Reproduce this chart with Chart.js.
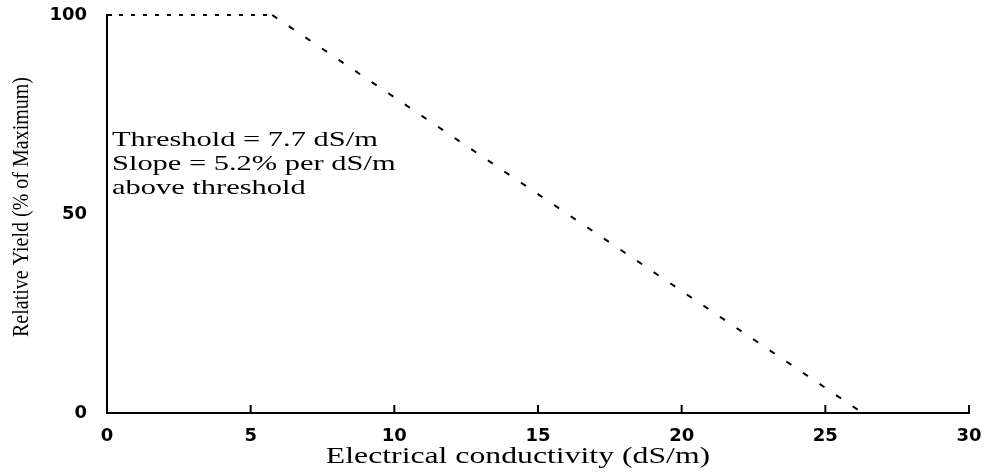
<!DOCTYPE html>
<html>
<head>
<meta charset="utf-8">
<script src="https://cdn.jsdelivr.net/npm/chart.js@4.4.1/dist/chart.umd.min.js"></script>
<style>
  body { margin: 0; background: #fff; }
  #wrap { width: 988px; height: 472px; }
</style>
</head>
<body>
<div id="wrap"><canvas id="salt" width="988" height="472"></canvas></div>
<script>
// values
const ecValues = [0, 5.75, 26.3];       // electrical conductivity, dS/m
const yieldValues = [100, 100, 0];      // relative yield, % of maximum
const xTickValues = [0, 5, 10, 15, 20, 25, 30];
const yTickValues = [0, 50, 100];
const xTitle = 'Electrical conductivity (dS/m)';
const yTitle = 'Relative Yield (% of Maximum)';
const noteLines = ['Threshold = 7.7 dS/m', 'Slope = 5.2% per dS/m', 'above threshold'];

const points = ecValues.map((x, i) => ({ x: x, y: yieldValues[i] }));

// draw text stretched sideways like the scanned original
function wideText(ctx, text, x, y, font, sx, align, rotate) {
  ctx.save();
  ctx.translate(x, y);
  ctx.scale(sx, 1);
  if (rotate) ctx.rotate(-Math.PI / 2);
  ctx.font = font;
  ctx.fillStyle = '#000';
  ctx.textAlign = align;
  ctx.textBaseline = rotate ? 'middle' : 'alphabetic';
  ctx.fillText(text, 0, 0);
  ctx.restore();
}

const extras = {
  id: 'extras',
  afterDraw(chart) {
    const ctx = chart.ctx;
    const xs = chart.scales.x, ys = chart.scales.y;
    const area = chart.chartArea;

    // small inward tick marks
    ctx.save();
    ctx.strokeStyle = '#000';
    ctx.lineWidth = 2;
    ctx.beginPath();
    xTickValues.forEach(v => {
      if (v === 0) return;
      const px = xs.getPixelForValue(v);
      ctx.moveTo(px, area.bottom);
      ctx.lineTo(px, area.bottom - 8);
    });
    const top = ys.getPixelForValue(100);
    ctx.moveTo(area.left, top);
    ctx.lineTo(area.left + 5, top);
    ctx.stroke();
    ctx.restore();

    // axis titles
    wideText(ctx, xTitle, 518, 463, '23px "Liberation Serif"', 1.38, 'center', false);
    wideText(ctx, yTitle, 22, 207, '20px "Liberation Serif"', 1.15, 'center', true);

    // note
    noteLines.forEach((t, i) => {
      wideText(ctx, t, 112, 146 + i * 24, '21px "Liberation Serif"', 1.45, 'left', false);
    });
  }
};

new Chart(document.getElementById('salt').getContext('2d'), {
  type: 'scatter',
  data: {
    datasets: [{
      data: points,
      showLine: true,
      borderColor: '#000',
      borderWidth: 2,
      pointRadius: 0,
      clip: 4,
      segment: {
        borderDash: c => c.p0DataIndex === 0 ? [4, 8] : [6, 14]
      }
    }]
  },
  options: {
    responsive: false,
    animation: false,
    layout: { padding: { top: 15, right: 19, left: 0, bottom: 0 } },
    plugins: { legend: { display: false }, tooltip: { enabled: false } },
    scales: {
      x: {
        type: 'linear',
        min: 0,
        max: 30,
        afterBuildTicks: s => { s.ticks = xTickValues.map(v => ({ value: v })); },
        afterFit: s => { s.height = 59; s.paddingLeft = 0; s.paddingRight = 0; },
        grid: { display: false, drawTicks: false },
        border: { display: true, color: '#000', width: 2 },
        ticks: {
          color: '#000',
          padding: 13,
          maxRotation: 0,
          font: { family: '"DejaVu Sans"', size: 18, weight: 'bold' }
        }
      },
      y: {
        min: 0,
        max: 100,
        afterBuildTicks: s => { s.ticks = yTickValues.map(v => ({ value: v })); },
        afterFit: s => { s.width = 107; s.paddingTop = 0; s.paddingBottom = 0; },
        grid: { display: false, drawTicks: false },
        border: { display: true, color: '#000', width: 2 },
        ticks: {
          color: '#000',
          padding: 20,
          font: { family: '"DejaVu Sans"', size: 18, weight: 'bold' }
        }
      }
    }
  },
  plugins: [extras]
});
</script>
</body>
</html>
